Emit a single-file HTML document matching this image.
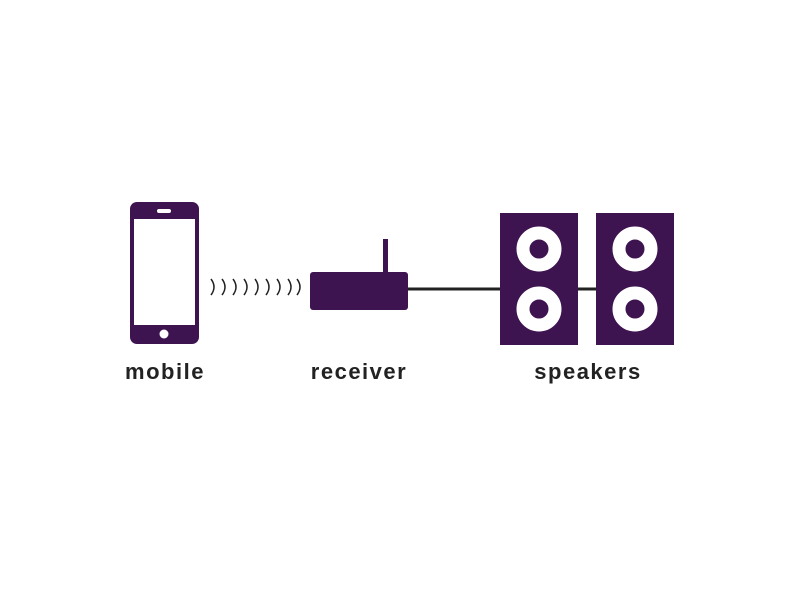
<!DOCTYPE html>
<html><head><style>
body{margin:0;background:#fff;}
</style></head><body>
<svg width="800" height="600" viewBox="0 0 800 600" xmlns="http://www.w3.org/2000/svg">
<rect width="800" height="600" fill="#fff"/>
<rect x="130" y="202" width="69" height="142" rx="7" fill="#3d1350"/>
<rect x="134" y="219" width="61" height="106" fill="#fff"/>
<rect x="157" y="209" width="14" height="4" rx="2" fill="#fff"/>
<circle cx="164" cy="334" r="4.5" fill="#fff"/>
<g fill="none" stroke="#222" stroke-width="1.5">
<path d="M211 279 Q217 287 211 295"/>
<path d="M222 279 Q228 287 222 295"/>
<path d="M233 279 Q239 287 233 295"/>
<path d="M244 279 Q250 287 244 295"/>
<path d="M255 279 Q261 287 255 295"/>
<path d="M266 279 Q272 287 266 295"/>
<path d="M277 279 Q283 287 277 295"/>
<path d="M288 279 Q294 287 288 295"/>
<path d="M297 279 Q303 287 297 295"/>
</g>
<line x1="405" y1="289" x2="500" y2="289" stroke="#222" stroke-width="3"/>
<line x1="576" y1="289" x2="598" y2="289" stroke="#222" stroke-width="3"/>
<rect x="383" y="239" width="5" height="35" fill="#3d1350"/>
<rect x="310" y="272" width="98" height="38" rx="3" fill="#3d1350"/>
<rect x="500" y="213" width="78" height="132" fill="#3d1350"/>
<rect x="596" y="213" width="78" height="132" fill="#3d1350"/>
<g fill="none" stroke="#fff" stroke-width="13">
<circle cx="539" cy="249" r="16"/>
<circle cx="539" cy="309" r="16"/>
<circle cx="635" cy="249" r="16"/>
<circle cx="635" cy="309" r="16"/>
</g>
<g font-family="Liberation Sans, sans-serif" font-size="22" font-weight="bold" fill="#222" text-anchor="middle" letter-spacing="1.5">
<text x="165" y="379">mobile</text>
<text x="359" y="379">receiver</text>
<text x="588" y="379">speakers</text>
</g>
</svg>
</body></html>
